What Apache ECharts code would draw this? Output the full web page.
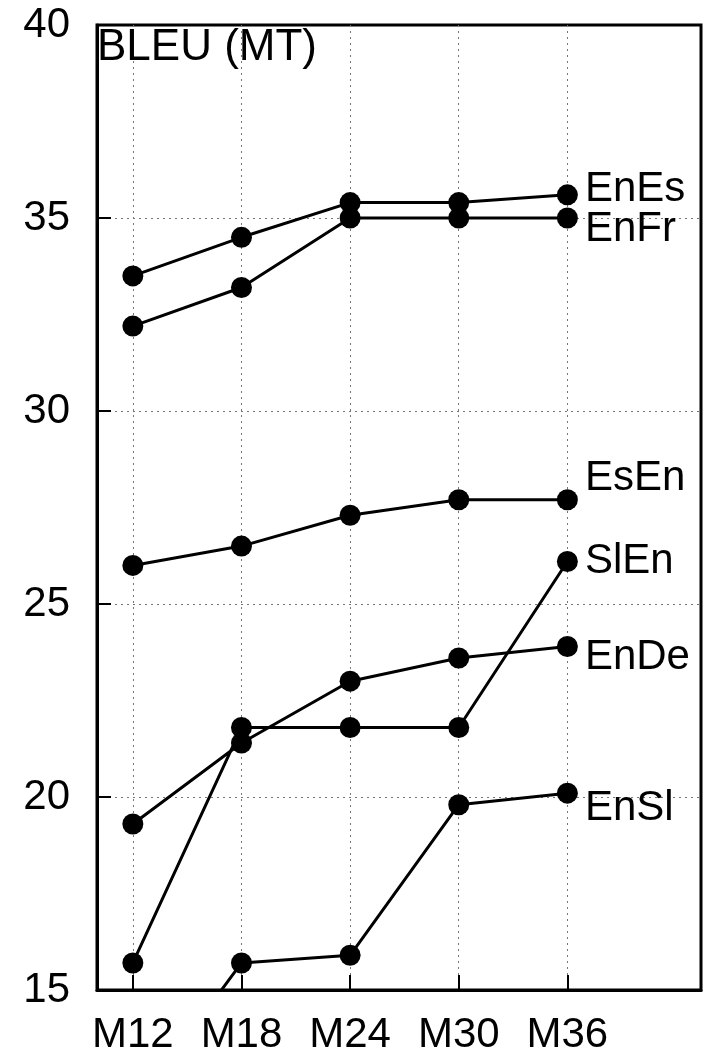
<!DOCTYPE html>
<html>
<head>
<meta charset="utf-8">
<script src="https://cdn.jsdelivr.net/npm/echarts@6/dist/echarts.min.js"></script>
<style>
html, body { margin: 0; padding: 0; background: #fff; }
#chart { width: 703px; height: 1056px; }
</style>
</head>
<body>
<div id="chart"></div>
<script>
// categories (checkpoints) and tick labels
const months = ['M12', 'M18', 'M24', 'M30', 'M36'];
const yTicks = [15, 20, 25, 30, 35, 40];

// BLEU values per language pair
const pairNames = ['EnEs', 'EnFr', 'EsEn', 'SlEn', 'EnDe', 'EnSl'];
const enEs = [33.5, 34.5, 35.4, 35.4, 35.6];
const enFr = [32.2, 33.2, 35.0, 35.0, 35.0];
const esEn = [26.0, 26.5, 27.3, 27.7, 27.7];
const slEn = [15.7, 21.8, 21.8, 21.8, 26.1];
const enDe = [19.3, 21.4, 23.0, 23.6, 23.9];
const enSl = [11.9, 15.7, 15.9, 19.8, 20.1];
const pairValues = [enEs, enFr, esEn, slEn, enDe, enSl];

// vertical nudge of the end labels (px), styling only
const labelShift = [-5, 11, -21, 0, 11, 15];

const FONT = 'Liberation Sans, Arial, sans-serif';

const chart = echarts.init(document.getElementById('chart'));

const series = pairNames.map((name, k) => ({
  name: name,
  type: 'line',
  data: pairValues[k].map((v, i) => [i, v]),
  symbol: 'circle',
  symbolSize: 21,
  clip: true,
  lineStyle: { color: '#000', width: 3 },
  itemStyle: { color: '#000' },
  label: {
    show: true,
    position: 'right',
    distance: 7,
    offset: [0, labelShift[k]],
    color: '#000',
    fontFamily: FONT,
    fontSize: 42,
    formatter: p => (p.dataIndex === months.length - 1 ? p.seriesName : '')
  },
  emphasis: { disabled: true }
}));

const option = {
  animation: false,
  backgroundColor: '#fff',
  title: {
    text: 'BLEU (MT)',
    left: 97,
    top: 26,
    padding: 0,
    textStyle: { fontFamily: FONT, fontSize: 44, fontWeight: 'normal', color: '#000' }
  },
  grid: {
    left: 97, right: 2, top: 25, bottom: 63,
    show: true, borderColor: '#000', borderWidth: 3, backgroundColor: 'transparent'
  },
  xAxis: {
    type: 'value',
    min: -0.33,
    max: 5.23,
    axisLine: { show: true, onZero: false, lineStyle: { color: '#000', width: 3 } },
    axisTick: {
      show: true, inside: true, length: 15,
      customValues: months.map((m, i) => i),
      lineStyle: { color: '#000', width: 2 }
    },
    axisLabel: {
      customValues: months.map((m, i) => i),
      formatter: v => months[Math.round(v)] || '',
      color: '#000', fontFamily: FONT, fontSize: 42, margin: 24
    },
    splitLine: {
      show: true,
      lineStyle: { color: '#777', width: 1, type: [2, 4] }
    }
  },
  yAxis: {
    type: 'value',
    min: yTicks[0],
    max: yTicks[yTicks.length - 1],
    interval: 5,
    axisLine: { show: true, onZero: false, lineStyle: { color: '#000', width: 3 } },
    axisTick: {
      show: true, inside: true, length: 14,
      lineStyle: { color: '#000', width: 2 }
    },
    axisLabel: { color: '#000', fontFamily: FONT, fontSize: 42, margin: 27 },
    splitLine: {
      show: true, showMinLine: false, showMaxLine: false,
      lineStyle: { color: '#777', width: 1, type: [2, 4] }
    }
  },
  series: series
};

chart.setOption(option);
</script>
</body>
</html>
